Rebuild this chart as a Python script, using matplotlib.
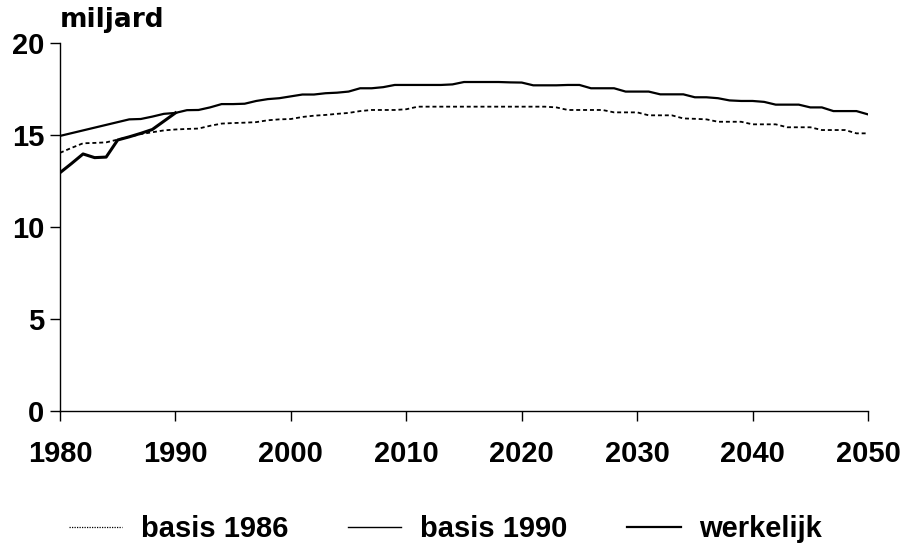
import matplotlib
matplotlib.use("Agg")
import matplotlib.pyplot as plt
from matplotlib.lines import Line2D

years = list(range(1980, 2051))

basis_1986 = [14.03, 14.30, 14.55, 14.57, 14.60, 14.75, 14.90, 15.05, 15.15, 15.25,
              15.30, 15.33, 15.35, 15.50, 15.62, 15.65, 15.67, 15.70, 15.80, 15.85,
              15.87, 15.98, 16.05, 16.09, 16.15, 16.20, 16.30, 16.36, 16.36, 16.36,
              16.40, 16.54, 16.54, 16.54, 16.54, 16.54, 16.54, 16.54, 16.54, 16.54,
              16.54, 16.54, 16.54, 16.50, 16.36, 16.36, 16.36, 16.36, 16.23, 16.23,
              16.23, 16.07, 16.07, 16.07, 15.90, 15.88, 15.85, 15.72, 15.72, 15.72,
              15.58, 15.58, 15.58, 15.42, 15.42, 15.42, 15.27, 15.27, 15.27, 15.09,
              15.09]

basis_1990 = [14.95, 15.10, 15.25, 15.40, 15.55, 15.70, 15.85, 15.87, 16.00, 16.15,
              16.20, 16.35, 16.36, 16.50, 16.68, 16.68, 16.70, 16.85, 16.95, 17.00,
              17.10, 17.20, 17.20, 17.27, 17.30, 17.36, 17.54, 17.54, 17.60, 17.72,
              17.72, 17.72, 17.72, 17.72, 17.75, 17.88, 17.88, 17.88, 17.88, 17.86,
              17.85, 17.70, 17.70, 17.70, 17.72, 17.72, 17.54, 17.54, 17.54, 17.36,
              17.36, 17.36, 17.21, 17.21, 17.21, 17.05, 17.05, 17.00, 16.88, 16.85,
              16.85, 16.80, 16.65, 16.65, 16.65, 16.50, 16.50, 16.30, 16.30, 16.30,
              16.12]

years_werkelijk = list(range(1980, 1991))
werkelijk = [12.95, 13.45, 13.97, 13.77, 13.80, 14.73, 14.90, 15.09, 15.30, 15.75, 16.20]

xticks = [1980, 1990, 2000, 2010, 2020, 2030, 2040, 2050]
yticks = [0, 5, 10, 15, 20]

plt.rcParams['font.family'] = ['Liberation Sans', 'DejaVu Sans']

fig = plt.figure(figsize=(9.17, 5.52), dpi=100)
ax = fig.add_axes([0.0654, 0.2554, 0.8812, 0.6667])

l1, = ax.plot(years, basis_1986, color='black', lw=1.3, linestyle=(0, (2.2, 1.6)))
l2, = ax.plot(years, basis_1990, color='black', lw=1.6)
l3, = ax.plot(years_werkelijk, werkelijk, color='black', lw=2.2)

ax.set_xlim(1980, 2050)
ax.set_ylim(0, 20)
ax.set_xticks(xticks)
ax.set_yticks(yticks)
ax.set_xticklabels([str(t) for t in xticks])
ax.set_yticklabels([str(t) for t in yticks])
ax.spines['top'].set_visible(False)
ax.spines['right'].set_visible(False)
for s in ('left', 'bottom'):
    ax.spines[s].set_linewidth(1.0)
ax.tick_params(axis='both', direction='out', length=7.2, width=1.0, labelsize=21, colors='black')
ax.tick_params(axis='x', pad=14)
ax.tick_params(axis='y', pad=4)
for lab in ax.get_xticklabels() + ax.get_yticklabels():
    lab.set_fontweight('bold')

ax.text(0.0, 1.028, 'miljard', transform=ax.transAxes, fontsize=19,
        fontweight='bold', ha='left', va='bottom', family=['DejaVu Sans'])

h1 = Line2D([], [], color='black', lw=0.9, linestyle=(0, (1, 1)))
h2 = Line2D([], [], color='black', lw=1.0)
h3 = Line2D([], [], color='black', lw=1.6)
fig.legend([h1, h2, h3], ['basis 1986', 'basis 1990', 'werkelijk'],
           loc='center', bbox_to_anchor=(0.486, 0.042), ncol=3, frameon=False,
           prop={'family': 'Liberation Sans', 'weight': 'bold', 'size': 21},
           handlelength=1.82, handletextpad=0.65, columnspacing=2.05)

fig.savefig('out.png', dpi=100)
